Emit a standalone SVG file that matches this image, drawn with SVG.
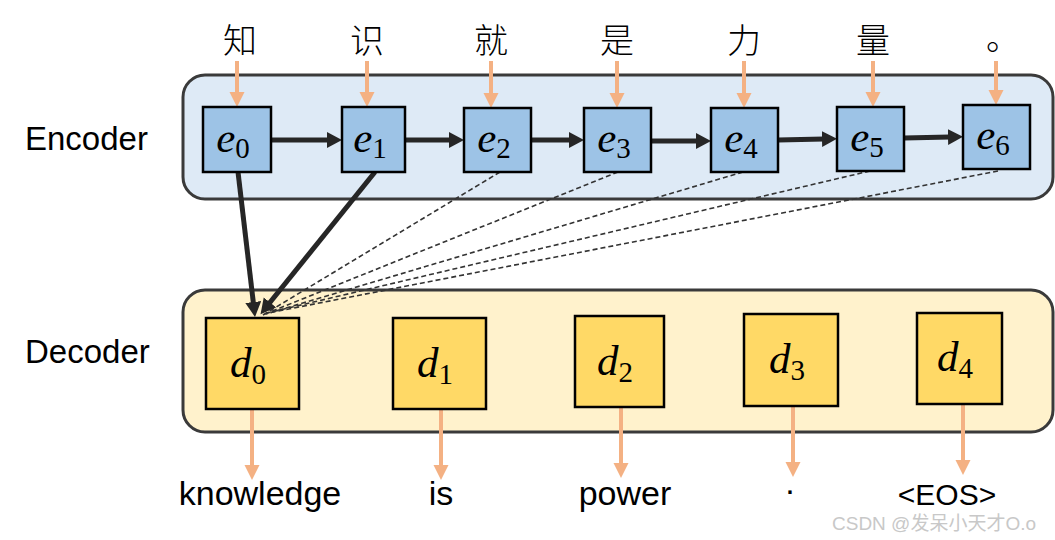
<svg xmlns="http://www.w3.org/2000/svg" width="1055" height="540" viewBox="0 0 1055 540">
<style>
.lbl{font-family:"Liberation Sans","Noto Sans",Arial,sans-serif;fill:#000}
.cjk{font-family:"Noto Sans CJK SC","Noto Sans CJK JP",sans-serif;font-size:34px;font-weight:300;fill:#000;text-anchor:middle}
.math{font-family:"Liberation Serif","DejaVu Serif",serif;font-style:italic;font-size:43px;fill:#000;text-anchor:middle}
.sub{font-style:normal;font-size:29px}
.enc{fill:#9DC3E6;stroke:#000;stroke-width:2.5}
.dec{fill:#FFD966;stroke:#000;stroke-width:2.5}
.panel{stroke:#3A3A3A;stroke-width:3}
.oarr{stroke:#F4B183;stroke-width:4;fill:none;marker-end:url(#ao)}
.barr{stroke:#262626;stroke-width:5;fill:none;marker-end:url(#ab)}
.dash{stroke:#333;stroke-width:1.6;stroke-dasharray:5 3;fill:none}
</style>
<defs>
<marker id="ao" markerUnits="userSpaceOnUse" markerWidth="16" markerHeight="16" refX="2" refY="7.5" orient="auto">
<path d="M0,0 L15,7.5 L0,15 Z" fill="#F4B183"/>
</marker>
<marker id="ab" markerUnits="userSpaceOnUse" markerWidth="18" markerHeight="18" refX="2" refY="8" orient="auto">
<path d="M0,0 L15,8 L0,16 Z" fill="#262626"/>
</marker>
</defs>
<rect width="1055" height="540" fill="#fff"/>

<g id="encoder-panel">
<rect class="panel" x="183" y="75" width="870" height="124" rx="22" fill="#DEEAF6"/>
<text class="lbl" x="25" y="150" font-size="33">Encoder</text>
</g>
<g id="decoder-panel">
<rect class="panel" x="183" y="290" width="870" height="142" rx="22" fill="#FFF2CC"/>
<text class="lbl" x="25" y="363" font-size="33">Decoder</text>
</g>

<g id="inputs">
<text class="cjk" x="240" y="53">知</text>
<text class="cjk" x="367" y="53">识</text>
<text class="cjk" x="491" y="53">就</text>
<text class="cjk" x="617" y="53">是</text>
<text class="cjk" x="744" y="53">力</text>
<text class="cjk" x="873" y="53">量</text>
<text class="cjk" x="1003" y="50">。</text>
</g>

<g id="connectors">
<line class="oarr" x1="237" y1="61" x2="237" y2="94"/>
<line class="oarr" x1="367" y1="61" x2="367" y2="94"/>
<line class="oarr" x1="491" y1="61" x2="491" y2="95"/>
<line class="oarr" x1="617" y1="61" x2="617" y2="95"/>
<line class="oarr" x1="744" y1="61" x2="744" y2="95"/>
<line class="oarr" x1="873" y1="61" x2="873" y2="94"/>
<line class="oarr" x1="996" y1="61" x2="996" y2="92"/>
<line class="barr" x1="271" y1="140" x2="329" y2="140"/>
<line class="barr" x1="405" y1="140" x2="451" y2="140"/>
<line class="barr" x1="531" y1="140" x2="571" y2="140"/>
<line class="barr" x1="651" y1="141" x2="698" y2="141"/>
<line class="barr" x1="778" y1="140" x2="824" y2="139"/>
<line class="barr" x1="904" y1="138" x2="950" y2="137"/>
<line class="dash" x1="500" y1="172" x2="263" y2="315"/>
<line class="dash" x1="618" y1="172" x2="265" y2="314"/>
<line class="dash" x1="743" y1="172" x2="266" y2="314"/>
<line class="dash" x1="870" y1="171" x2="267" y2="313"/>
<line class="dash" x1="998" y1="171" x2="268" y2="313"/>
<line class="barr" x1="238" y1="172" x2="253.5" y2="304"/>
<line class="barr" x1="375" y1="172" x2="268.7" y2="304"/>
<line class="oarr" x1="252" y1="409" x2="252" y2="467"/>
<line class="oarr" x1="441" y1="409" x2="441" y2="467"/>
<line class="oarr" x1="621" y1="407" x2="621" y2="465"/>
<line class="oarr" x1="793" y1="406" x2="793" y2="464"/>
<line class="oarr" x1="963" y1="404" x2="963" y2="462"/>
</g>

<g id="e0"><rect class="enc" x="203" y="107" width="68" height="65"/><text class="math" x="233" y="152">e<tspan class="sub" dy="6">0</tspan></text></g>
<g id="e1"><rect class="enc" x="342" y="107" width="63" height="65"/><text class="math" x="370" y="152">e<tspan class="sub" dy="6">1</tspan></text></g>
<g id="e2"><rect class="enc" x="464" y="108" width="67" height="64"/><text class="math" x="494" y="152">e<tspan class="sub" dy="6">2</tspan></text></g>
<g id="e3"><rect class="enc" x="584" y="108" width="67" height="64"/><text class="math" x="614" y="152">e<tspan class="sub" dy="6">3</tspan></text></g>
<g id="e4"><rect class="enc" x="711" y="108" width="67" height="64"/><text class="math" x="741" y="152">e<tspan class="sub" dy="6">4</tspan></text></g>
<g id="e5"><rect class="enc" x="837" y="107" width="67" height="64"/><text class="math" x="867" y="151">e<tspan class="sub" dy="6">5</tspan></text></g>
<g id="e6"><rect class="enc" x="963" y="105" width="67" height="64"/><text class="math" x="993" y="149">e<tspan class="sub" dy="6">6</tspan></text></g>

<g id="d0"><rect class="dec" x="206" y="318" width="93" height="91"/><text class="math" x="248" y="377" font-size="45">d<tspan class="sub" dy="7">0</tspan></text></g>
<g id="d1"><rect class="dec" x="393" y="318" width="93" height="91"/><text class="math" x="435" y="377" font-size="45">d<tspan class="sub" dy="7">1</tspan></text></g>
<g id="d2"><rect class="dec" x="575" y="316" width="89" height="91"/><text class="math" x="615" y="375" font-size="45">d<tspan class="sub" dy="7">2</tspan></text></g>
<g id="d3"><rect class="dec" x="744" y="314" width="94" height="92"/><text class="math" x="787" y="373" font-size="45">d<tspan class="sub" dy="7">3</tspan></text></g>
<g id="d4"><rect class="dec" x="917" y="313" width="85" height="91"/><text class="math" x="955" y="371" font-size="45">d<tspan class="sub" dy="7">4</tspan></text></g>

<g id="outputs">
<text class="lbl" x="260" y="505" font-size="34" text-anchor="middle">knowledge</text>
<text class="lbl" x="441" y="505" font-size="34" text-anchor="middle">is</text>
<text class="lbl" x="625" y="505" font-size="34" text-anchor="middle">power</text>
<text class="lbl" x="790" y="494" font-size="34" text-anchor="middle">.</text>
<text class="lbl" x="947" y="505" font-size="30" text-anchor="middle">&lt;EOS&gt;</text>
</g>
<text id="watermark" x="832" y="530" font-size="19" fill="#C8C8C8" font-family="Liberation Sans,Noto Sans CJK SC,sans-serif">CSDN @发呆小天才O.o</text>
</svg>
